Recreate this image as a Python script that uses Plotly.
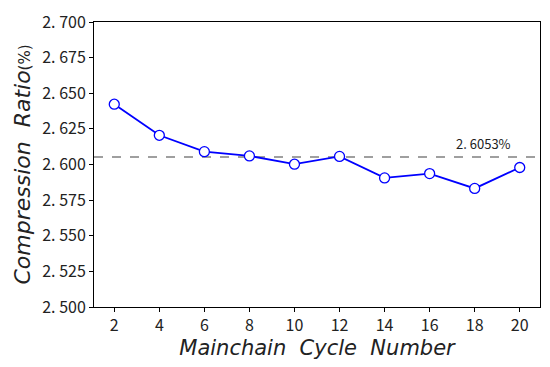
import plotly.graph_objects as go

cycles = [2, 4, 6, 8, 10, 12, 14, 16, 18, 20]
ratios = [2.6423, 2.6205, 2.6090, 2.6060, 2.6002, 2.6057, 2.5906, 2.5936, 2.5832, 2.5979]
mean_ratio = 2.6053
ytick_vals = [2.500, 2.525, 2.550, 2.575, 2.600, 2.625, 2.650, 2.675, 2.700]
ytick_text = ["2. 500", "2. 525", "2. 550", "2. 575", "2. 600", "2. 625", "2. 650", "2. 675", "2. 700"]
xtick_vals = cycles

FONT = "Noto Sans CJK SC, DejaVu Sans, sans-serif"

fig = go.Figure()
fig.add_trace(go.Scatter(
    x=cycles, y=ratios, mode="lines+markers",
    line=dict(color="#0000ff", width=1.8),
    marker=dict(size=10, color="white", line=dict(color="#0000ff", width=1.3)),
    showlegend=False,
))
fig.add_shape(type="line", xref="paper", x0=0, x1=1, yref="y", y0=mean_ratio, y1=mean_ratio,
              line=dict(color="#808080", width=1.6, dash="dash"), layer="below")
fig.add_annotation(x=18.4, y=mean_ratio, xref="x", yref="y", text="2. 6053%",
                   showarrow=False, yanchor="bottom", yshift=2,
                   font=dict(family=FONT, size=13, color="#222222"))

axis_common = dict(showline=True, linecolor="black", linewidth=1, mirror=True,
                   ticks="outside", ticklen=4, tickcolor="black", showgrid=False,
                   zeroline=False, ticklabeloverflow="allow",
                   tickfont=dict(family=FONT, size=16, color="#222222"))
fig.update_xaxes(range=[1.1, 20.9], tickvals=xtick_vals,
                 title=dict(text="<i>Mainchain  Cycle  Number</i>",
                            font=dict(family="DejaVu Sans, sans-serif", size=21, color="#222222"),
                            standoff=1),
                 **axis_common)
fig.update_yaxes(range=[2.5, 2.7], tickvals=ytick_vals, ticktext=ytick_text,
                 title=dict(text="<i>Compression  Ratio</i><span style='font-size:15px'>(%)</span>",
                            font=dict(family="DejaVu Sans, sans-serif", size=22, color="#222222"),
                            standoff=5),
                 **axis_common)
fig.update_layout(width=550, height=367, margin=dict(l=94, r=9, t=17, b=60),
                  plot_bgcolor="white", paper_bgcolor="white")
fig.write_html("out.html", config={"displayModeBar": False},
               post_script="document.body.style.margin='0';")
